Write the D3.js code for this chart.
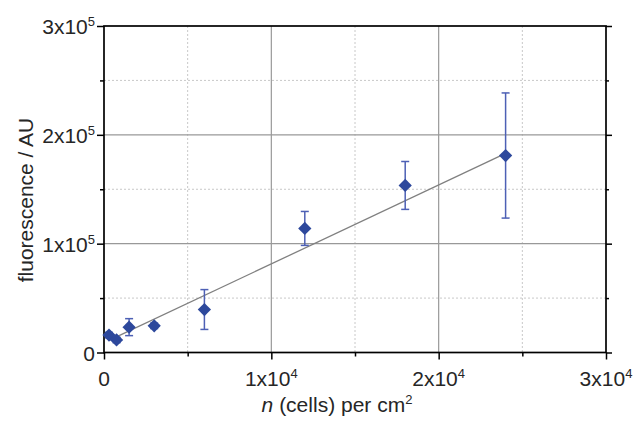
<!DOCTYPE html>
<html>
<head>
<meta charset="utf-8">
<script src="https://cdn.jsdelivr.net/npm/d3@7"></script>
<style>
  html, body { margin: 0; padding: 0; background: #fff; }
  svg { display: block; font-family: "Liberation Sans", Arial, sans-serif; }
</style>
</head>
<body>
<svg id="chart" width="634" height="423"></svg>
<script>
// Cell density (cells per cm^2) and measured fluorescence (AU)
const cellDensity = [300, 750, 1500, 3000, 6000, 12000, 18000, 24000];
const fluorescence = [16000, 11500, 23300, 24500, 39500, 114000, 153500, 181000];
const fluorescenceErr = [2500, 2500, 7800, 2500, 18300, 15600, 22000, 57500];

// Linear fit endpoints
const fitDensity = [300, 24000];
const fitFluorescence = [11100, 182900];

// Axis ticks
const xMajorTicks = [0, 10000, 20000, 30000];
const xMajorLabels = [["0", ""], ["1x10", "4"], ["2x10", "4"], ["3x10", "4"]];
const xMinorTicks = [5000, 15000, 25000];
const yMajorTicks = [0, 100000, 200000, 300000];
const yMajorLabels = [["0", ""], ["1x10", "5"], ["2x10", "5"], ["3x10", "5"]];
const yMinorTicks = [50000, 150000, 250000];

const svg = d3.select("#chart");
const plotLeft = 104, plotRight = 606, plotTop = 26, plotBottom = 352.5;

const x = d3.scaleLinear().domain([0, 30000]).range([plotLeft, plotRight]);
const y = d3.scaleLinear().domain([0, 300000]).range([plotBottom, plotTop]);

const markColor = "#2d489c";
const errColor = "#4d60b5";
const textColor = "#262626";

// Grid: dotted minor, solid major
const grid = svg.append("g");
grid.selectAll(".vminor").data(xMinorTicks).join("line")
  .attr("x1", d => x(d)).attr("x2", d => x(d))
  .attr("y1", plotTop).attr("y2", plotBottom)
  .attr("stroke", "#c8c8c8").attr("stroke-width", 1).attr("stroke-dasharray", "2,2");
grid.selectAll(".hminor").data(yMinorTicks).join("line")
  .attr("x1", plotLeft).attr("x2", plotRight)
  .attr("y1", d => y(d)).attr("y2", d => y(d))
  .attr("stroke", "#c8c8c8").attr("stroke-width", 1).attr("stroke-dasharray", "2,2");
grid.selectAll(".vmajor").data(xMajorTicks.slice(1, -1)).join("line")
  .attr("x1", d => x(d)).attr("x2", d => x(d))
  .attr("y1", plotTop).attr("y2", plotBottom)
  .attr("stroke", "#999").attr("stroke-width", 1.2);
grid.selectAll(".hmajor").data(yMajorTicks.slice(1, -1)).join("line")
  .attr("x1", plotLeft).attr("x2", plotRight)
  .attr("y1", d => y(d)).attr("y2", d => y(d))
  .attr("stroke", "#999").attr("stroke-width", 1.2);

// Axes
const axisStyle = g => {
  g.select(".domain").remove();
  g.selectAll(".tick line").attr("stroke", "#000").attr("stroke-width", 1.5);
  g.selectAll(".tick text").remove();
};
svg.append("g").attr("transform", `translate(0,${plotBottom})`)
  .call(d3.axisBottom(x).tickValues(xMajorTicks).tickSize(7)).call(axisStyle);
svg.append("g").attr("transform", `translate(0,${plotBottom})`)
  .call(d3.axisBottom(x).tickValues(xMinorTicks).tickSize(4)).call(axisStyle);
svg.append("g").attr("transform", `translate(${plotLeft},0)`)
  .call(d3.axisLeft(y).tickValues(yMajorTicks).tickSize(7)).call(axisStyle);
svg.append("g").attr("transform", `translate(${plotLeft},0)`)
  .call(d3.axisLeft(y).tickValues(yMinorTicks).tickSize(4)).call(axisStyle);
svg.append("g").attr("transform", `translate(${plotRight},0)`)
  .call(d3.axisLeft(y).tickValues(yMajorTicks).tickSize(-6)).call(axisStyle);
svg.append("g").attr("transform", `translate(${plotRight},0)`)
  .call(d3.axisLeft(y).tickValues(yMinorTicks).tickSize(-3)).call(axisStyle);

// Frame
svg.append("rect")
  .attr("x", plotLeft).attr("y", plotTop)
  .attr("width", plotRight - plotLeft).attr("height", plotBottom - plotTop)
  .attr("fill", "none").attr("stroke", "#000").attr("stroke-width", 1.7);

// Tick labels with superscript exponents
const fs = 21;
svg.selectAll(".xlab").data(xMajorTicks).join("text")
  .attr("x", d => x(d)).attr("y", plotBottom + 33)
  .attr("text-anchor", "middle").attr("font-size", fs).attr("fill", textColor)
  .each(function(d, i) {
    const t = d3.select(this);
    t.append("tspan").text(xMajorLabels[i][0]);
    if (xMajorLabels[i][1]) t.append("tspan").attr("dy", -8).attr("font-size", 13).text(xMajorLabels[i][1]);
  });
svg.selectAll(".ylab").data(yMajorTicks).join("text")
  .attr("x", plotLeft - 9).attr("y", d => y(d) + 8)
  .attr("text-anchor", "end").attr("font-size", fs).attr("fill", textColor)
  .each(function(d, i) {
    const t = d3.select(this);
    t.append("tspan").text(yMajorLabels[i][0]);
    if (yMajorLabels[i][1]) t.append("tspan").attr("dy", -8).attr("font-size", 13).text(yMajorLabels[i][1]);
  });

// Axis titles
const xt = svg.append("text").attr("x", 337).attr("y", 412)
  .attr("text-anchor", "middle").attr("font-size", fs).attr("fill", textColor);
xt.append("tspan").attr("font-style", "italic").text("n");
xt.append("tspan").text(" (cells) per cm");
xt.append("tspan").attr("dy", -8).attr("font-size", 13).text("2");

svg.append("text")
  .attr("transform", `translate(33,200) rotate(-90)`)
  .attr("text-anchor", "middle").attr("font-size", fs).attr("fill", textColor)
  .text("fluorescence / AU");

// Fit line
svg.append("path")
  .datum(fitDensity.map((d, i) => [d, fitFluorescence[i]]))
  .attr("d", d3.line().x(d => x(d[0])).y(d => y(d[1])))
  .attr("fill", "none").attr("stroke", "#808080").attr("stroke-width", 1.3);

// Error bars
const pts = cellDensity.map((d, i) => ({ n: d, f: fluorescence[i], e: fluorescenceErr[i] }));
const eb = svg.append("g").attr("stroke", errColor).attr("stroke-width", 1.5);
eb.selectAll(".stem").data(pts).join("line")
  .attr("x1", d => x(d.n)).attr("x2", d => x(d.n))
  .attr("y1", d => y(d.f - d.e)).attr("y2", d => y(d.f + d.e));
eb.selectAll(".capTop").data(pts).join("line")
  .attr("x1", d => x(d.n) - 4).attr("x2", d => x(d.n) + 4)
  .attr("y1", d => y(d.f + d.e)).attr("y2", d => y(d.f + d.e));
eb.selectAll(".capBot").data(pts).join("line")
  .attr("x1", d => x(d.n) - 4).attr("x2", d => x(d.n) + 4)
  .attr("y1", d => y(d.f - d.e)).attr("y2", d => y(d.f - d.e));

// Diamond markers
svg.selectAll(".pt").data(pts).join("path")
  .attr("d", d3.symbol(d3.symbolSquare, 88))
  .attr("transform", d => `translate(${x(d.n)},${y(d.f)}) rotate(45)`)
  .attr("fill", markColor);
</script>
</body>
</html>
